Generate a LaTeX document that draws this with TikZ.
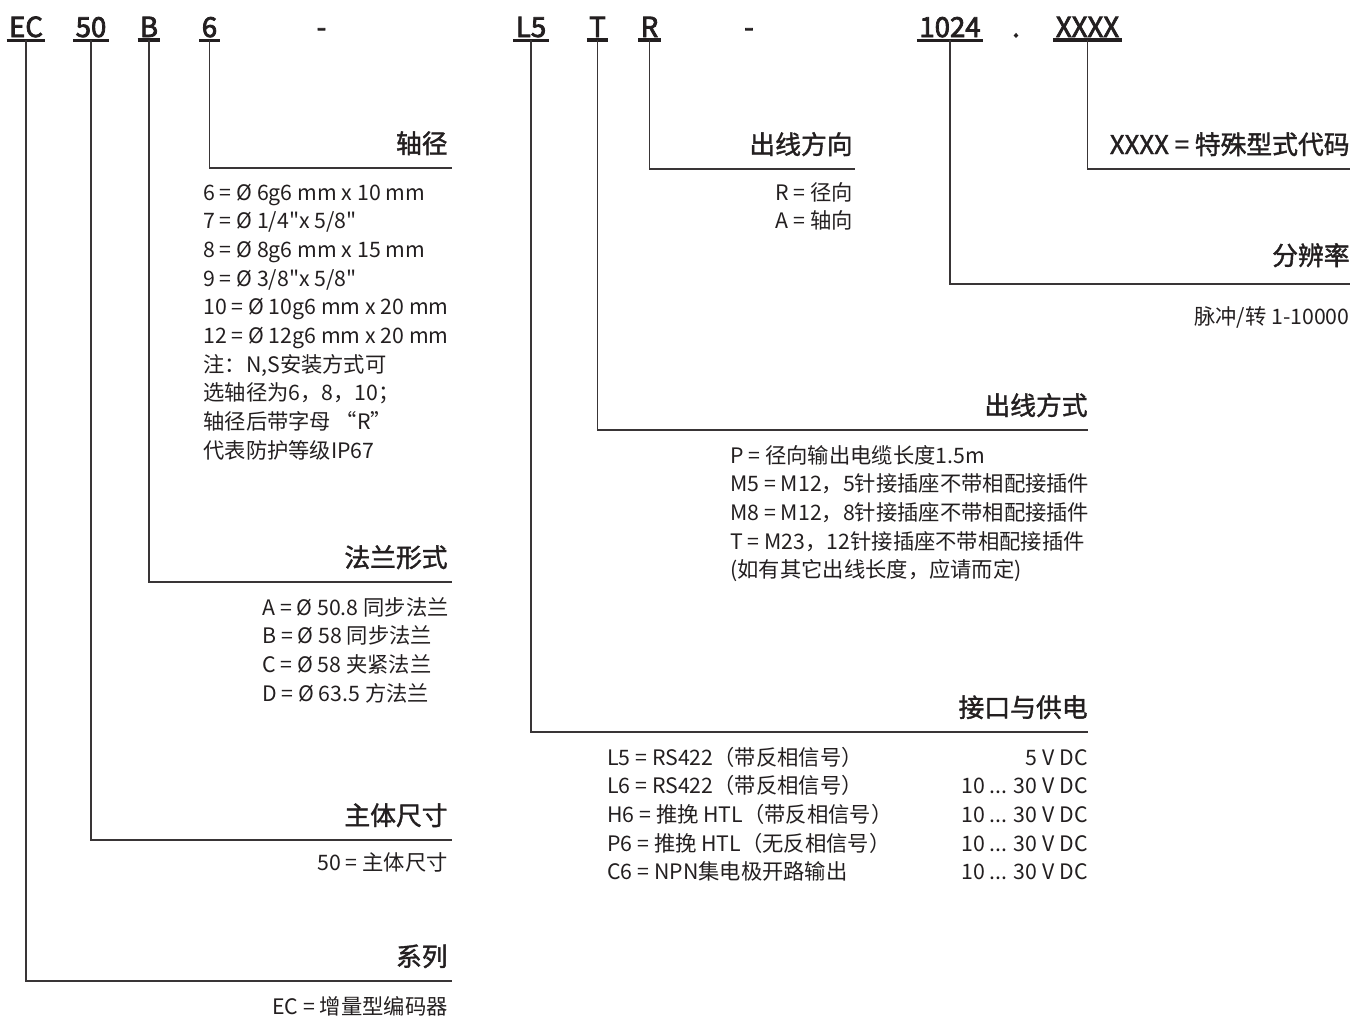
\documentclass[tikz,border=0pt]{standalone}
\usepackage{fontspec}
\setmainfont{Noto Sans CJK SC}[Ligatures=TeXOff]
\newfontfamily\headfont{Noto Sans CJK SC}[FakeBold=1.5]
\newfontfamily\codefont{Noto Sans CJK SC}[FakeBold=2.8]
\definecolor{ink}{HTML}{231F20}
\tikzset{
  code/.style={font=\codefont\fontsize{13.8}{16}\selectfont, text=ink, anchor=base, inner xsep=1pt, inner ysep=1.25pt},
  uline/.style={draw=ink, line width=1.6pt},
  conn/.style={draw=ink!90, line width=0.6pt},
  head/.style={font=\headfont\fontsize{12.9}{15}\selectfont, text=ink, anchor=base east, inner sep=0pt},
  item/.style={font=\fontsize{10.65}{12}\selectfont, text=ink, inner sep=0pt},
}

\begin{document}
\begin{tikzpicture}[x=0.5pt, y=-0.5pt]
            \useasboundingbox (0,0) rectangle (1354,1017);
            \node[code] (ec) at (26,37) {EC};
            \node[code] (size) at (91,37) {50};
            \node[code] (flange) at (149,37) {B};
            \node[code] (shaft) at (209.5,37) {6};
            \node[code] (dasha) at (321.5,37) {-};
            \node[code] (iface) at (531,37) {L5};
            \node[code] (outlet) at (597.5,37) {T};
            \node[code] (dir) at (649.5,37) {R};
            \node[code] (dashb) at (749,37) {-};
            \node[code] (res) at (950,37) {1024};
            \node[code] (dot) at (1016,37) {.};
            \node[code] (spec) at (1087.5,37) {XXXX};
            \foreach \n in {ec,size,flange,shaft,iface,outlet,dir,res,spec}
                \draw[uline] (\n.south west) -- (\n.south east);
            \coordinate (shaftend) at (452,168);
            \coordinate (flangeend) at (452,582);
            \coordinate (sizeend) at (452,840);
            \coordinate (ecend) at (452,981);
            \coordinate (dirend) at (855,169);
            \coordinate (specend) at (1350,169);
            \coordinate (resend) at (1350,284);
            \coordinate (outletend) at (1088,430);
            \coordinate (ifaceend) at (1088,732);
            \draw[conn] (shaft.south) |- (shaftend);
            \draw[conn] (flange.south) |- (flangeend);
            \draw[conn] (size.south) |- (sizeend);
            \draw[conn] (ec.south) |- (ecend);
            \draw[conn] (dir.south) |- (dirend);
            \draw[conn] (spec.south) |- (specend);
            \draw[conn] (res.south) |- (resend);
            \draw[conn] (outlet.south) |- (outletend);
            \draw[conn] (iface.south) |- (ifaceend);
            \node[head] (shafthead) at (448,153) {轴径};
            \node[head] (flangehead) at (448,567) {法兰形式};
            \node[head] (sizehead) at (448,825) {主体尺寸};
            \node[head] (echead) at (448,966) {系列};
            \node[head] (dirhead) at (853,154) {出线方向};
            \node[head] (spechead) at (1350,154) {XXXX = 特殊型式代码};
            \node[head] (reshead) at (1350,265) {分辨率};
            \node[head] (outlethead) at (1088,415) {出线方式};
            \node[head] (ifacehead) at (1088,717) {接口与供电};
            \foreach \t [count=\i] in {{6 = Ø 6g6 mm x 10 mm},{7 = Ø 1/4"x 5/8"},{8 = Ø 8g6 mm x 15 mm},
                {9 = Ø 3/8"x 5/8"},{10 = Ø 10g6 mm x 20 mm},{12 = Ø 12g6 mm x 20 mm},{注：N,S安装方式可},
                {选轴径为6，8，10；},{轴径后带字母 “R”},{代表防护等级IP67}}
                \node[item, anchor=base west] (shaft\i) at (203,{200+28.7*(\i-1)}) {\t};
            \foreach \t [count=\i] in {{A = Ø 50.8 同步法兰},{B = Ø 58 同步法兰},{C = Ø 58 夹紧法兰},{D = Ø 63.5 方法兰}}
                \node[item, anchor=base west] (flange\i) at (262,{615+28.7*(\i-1)}) {\t};
            \node[item, anchor=base east] (size1) at (448,870) {50 = 主体尺寸};
            \node[item, anchor=base east] (ec1) at (448,1014) {EC = 增量型编码器};
            \node[item, anchor=base east] (dir1) at (853,200) {R = 径向};
            \node[item, anchor=base east] (dir2) at (853,228.7) {A = 轴向};
            \node[item, anchor=base east] (res1) at (1350,324) {脉冲/转 1-10000};
            \foreach \t [count=\i] in {{P = 径向输出电缆长度1.5m},{M5 = M12，5针接插座不带相配接插件},
                {M8 = M12，8针接插座不带相配接插件},{T = M23，12针接插座不带相配接插件},{(如有其它出线长度，应请而定)}}
                \node[item, anchor=base west] (outlet\i) at (730,{463+28.7*(\i-1)}) {\t};
            \foreach \t [count=\i] in {{L5 = RS422（带反相信号）},{L6 = RS422（带反相信号）},{H6 = 推挽 HTL（带反相信号）},
                {P6 = 推挽 HTL（无反相信号）},{C6 = NPN集电极开路输出}}
                \node[item, anchor=base west] (iface\i) at (607,{765+28.7*(\i-1)}) {\t};
            \node[item, anchor=base east] (volt1) at (1088,765) {5 V DC};
            \foreach \i in {2,...,5}
                \node[item, anchor=base east] (volt\i) at (1088,{765+28.7*(\i-1)}) {10 ... 30 V DC};
\end{tikzpicture}
\end{document}
